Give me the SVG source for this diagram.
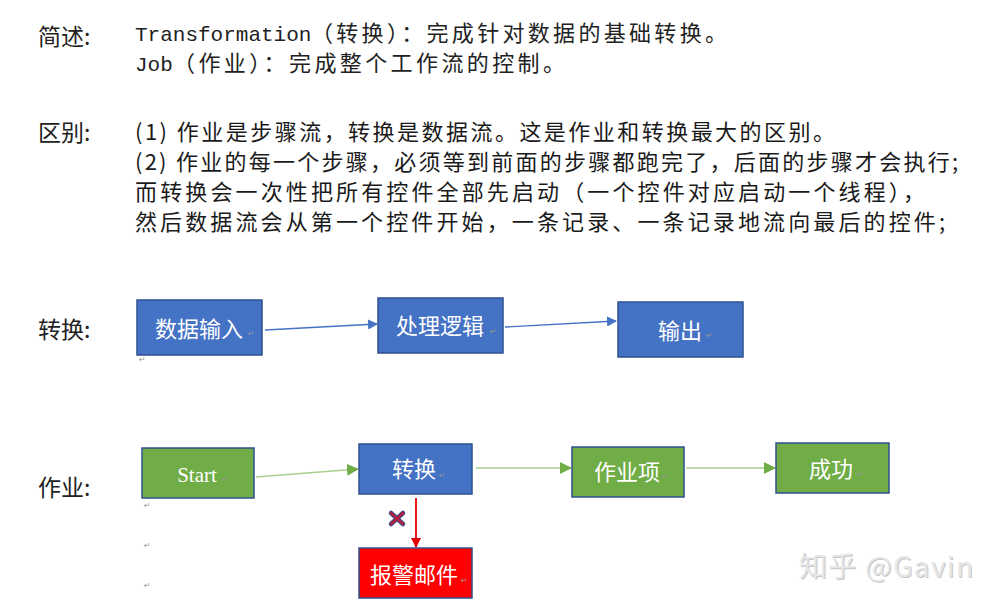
<svg xmlns="http://www.w3.org/2000/svg" width="1001" height="605" viewBox="0 0 1001 605">
<defs>
<style>
.lbl{font-family:"Noto Sans CJK SC","Liberation Sans",sans-serif;font-size:23px;fill:#222}
.mono{font-family:"Liberation Mono","DejaVu Sans Mono",monospace;font-size:21px;fill:#222}
.cjk{font-family:"Noto Sans CJK SC",sans-serif;font-size:22px;fill:#222}
.body{font-family:"Noto Sans CJK SC","Liberation Sans",sans-serif;font-size:22px;fill:#1a1a1a}
.blue{fill:#4472C4;stroke:#2F528F;stroke-width:1.5}
.green{fill:#70AD47;stroke:#2F528F;stroke-width:1.5}
.red{fill:#FF0000;stroke:#2F528F;stroke-width:1.5}
.nt{font-family:"Noto Sans CJK SC",sans-serif;font-size:22px;fill:#fff;text-anchor:middle}
.st{font-family:"Liberation Serif",serif;font-size:21px;fill:#fff;text-anchor:middle}
.pm{font-family:"DejaVu Sans",sans-serif;font-size:8px;fill:#999}
</style>
<marker id="ab" markerWidth="10" markerHeight="10" refX="9" refY="5" orient="auto" markerUnits="userSpaceOnUse"><path d="M0,0 L10,5 L0,10 z" fill="#4472C4"/></marker>
<marker id="ag" markerWidth="12" markerHeight="12" refX="11" refY="6" orient="auto" markerUnits="userSpaceOnUse"><path d="M0,0 L12,6 L0,12 z" fill="#70AD47"/></marker>
<marker id="ar" markerWidth="10" markerHeight="12" refX="9" refY="5" orient="auto" markerUnits="userSpaceOnUse"><path d="M0,0 L10,5 L0,10 z" fill="#E00000"/></marker>
</defs>
<rect width="1001" height="605" fill="#fff"/>

<g id="summary">
<text class="lbl" x="38" y="45">简述:</text>
<text class="mono" x="135" y="41">Transformation</text>
<text class="cjk" x="311" y="41" textLength="416" lengthAdjust="spacing">（转换）：完成针对数据的基础转换。</text>
<text class="mono" x="135" y="71">Job</text>
<text class="cjk" x="173" y="71" textLength="392" lengthAdjust="spacing">（作业）：完成整个工作流的控制。</text>
</g>

<g id="difference">
<text class="lbl" x="38" y="141">区别:</text>
<text class="body" x="135" y="140" textLength="700" lengthAdjust="spacing">(1) 作业是步骤流，转换是数据流。这是作业和转换最大的区别。</text>
<text class="body" x="135" y="170" textLength="823" lengthAdjust="spacing">(2) 作业的每一个步骤，必须等到前面的步骤都跑完了，后面的步骤才会执行;</text>
<text class="body" x="135" y="200" textLength="790" lengthAdjust="spacing">而转换会一次性把所有控件全部先启动（一个控件对应启动一个线程），</text>
<text class="body" x="135" y="230" textLength="810" lengthAdjust="spacing">然后数据流会从第一个控件开始，一条记录、一条记录地流向最后的控件;</text>
</g>

<text class="lbl" x="38" y="338">转换:</text>
<text class="lbl" x="38" y="496">作业:</text>

<g id="connectors" fill="none">
<line x1="265" y1="330" x2="377" y2="324" stroke="#4472C4" stroke-width="1.3" marker-end="url(#ab)"/>
<line x1="505" y1="327" x2="616" y2="321" stroke="#4472C4" stroke-width="1.3" marker-end="url(#ab)"/>
<line x1="256" y1="477" x2="358" y2="469" stroke="#A9D18E" stroke-width="1.5" marker-end="url(#ag)"/>
<line x1="476" y1="468" x2="571" y2="468" stroke="#A9D18E" stroke-width="1.5" marker-end="url(#ag)"/>
<line x1="686" y1="468" x2="775" y2="468" stroke="#A9D18E" stroke-width="1.5" marker-end="url(#ag)"/>
<line x1="416" y1="498" x2="416" y2="547" stroke="#E00000" stroke-width="1.8" marker-end="url(#ar)"/>
<path d="M391,513 L403,524 M403,513 L391,524" stroke="#3A4A8A" stroke-width="4.5" stroke-linecap="round"/>
<path d="M391,513 L403,524 M403,513 L391,524" stroke="#B0203A" stroke-width="2.5" stroke-linecap="round"/>
</g>

<g id="n-input">
<rect class="blue" x="137" y="300" width="125" height="55"/>
<text class="nt" x="199" y="337">数据输入</text>
<text class="pm" x="248" y="336">↵</text>
</g>
<g id="n-process">
<rect class="blue" x="378" y="298" width="125" height="55"/>
<text class="nt" x="440" y="334">处理逻辑</text>
<text class="pm" x="490" y="334">↵</text>
</g>
<g id="n-output">
<rect class="blue" x="618" y="302" width="125" height="55"/>
<text class="nt" x="680" y="339">输出</text>
<text class="pm" x="706" y="338">↵</text>
</g>

<g id="n-start">
<rect class="green" x="142" y="448" width="112" height="50"/>
<text class="st" x="197" y="482">Start</text>
<text class="pm" x="222" y="482">↵</text>
</g>
<g id="n-transform">
<rect class="blue" x="359" y="444" width="113" height="50"/>
<text class="nt" x="414" y="477">转换</text>
<text class="pm" x="439" y="478">↵</text>
</g>
<g id="n-jobitem">
<rect class="green" x="572" y="447" width="112" height="50"/>
<text class="nt" x="627" y="480">作业项</text>
<text class="pm" x="662" y="479">↵</text>
</g>
<g id="n-success">
<rect class="green" x="776" y="443" width="113" height="50"/>
<text class="nt" x="831" y="477">成功</text>
<text class="pm" x="857" y="477">↵</text>
</g>
<g id="n-alert">
<rect class="red" x="359" y="548" width="113" height="50"/>
<text class="nt" x="414" y="583">报警邮件</text>
<text class="pm" x="461" y="583">↵</text>
</g>

<g id="marks">
<text class="pm" x="139" y="362">↵</text>
<text class="pm" x="144" y="508">↵</text>
<text class="pm" x="144" y="548">↵</text>
<text class="pm" x="144" y="588">↵</text>
</g>

<g id="watermark">
<text x="799" y="577" font-family="Noto Sans CJK SC,sans-serif" font-size="28" fill="#a0a0a0" opacity="0.6" transform="translate(1,1)" textLength="174" lengthAdjust="spacing">知乎 @Gavin</text>
<text x="799" y="577" font-family="Noto Sans CJK SC,sans-serif" font-size="28" fill="#e6e6e6" textLength="174" lengthAdjust="spacing">知乎 @Gavin</text>
</g>
</svg>
